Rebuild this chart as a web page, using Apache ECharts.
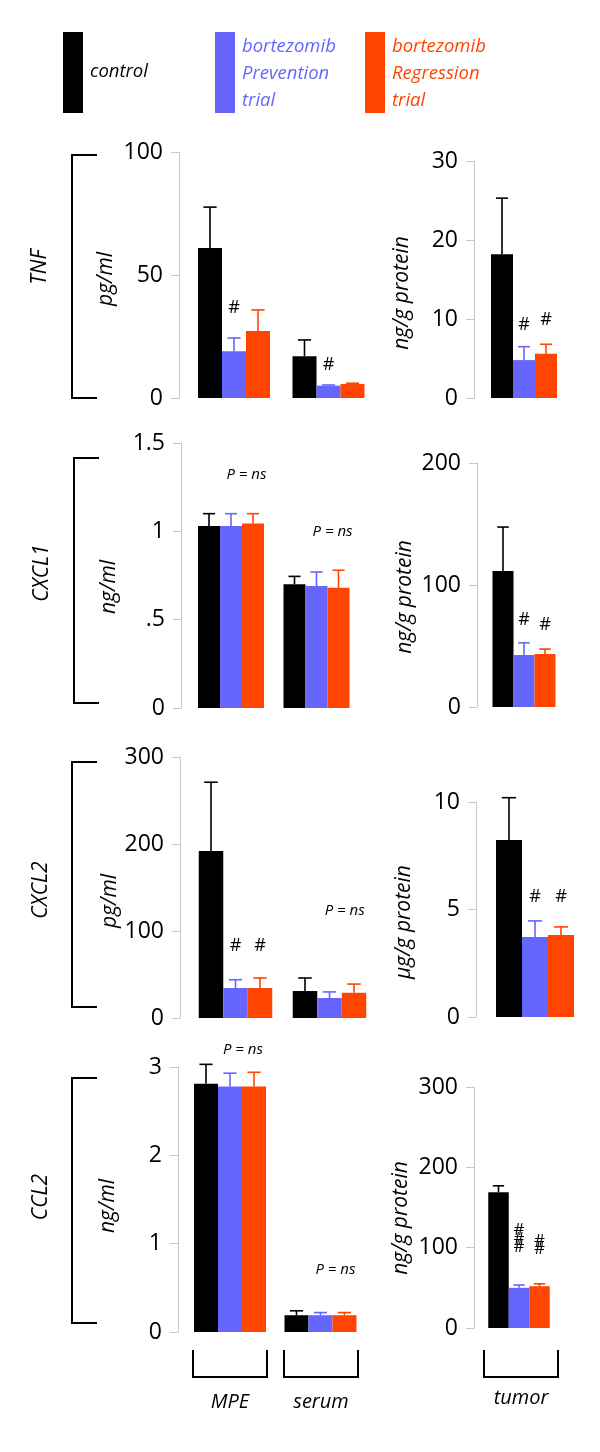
<!DOCTYPE html>
<html>
<head>
<meta charset="utf-8">
<script src="https://cdn.jsdelivr.net/npm/echarts@6/dist/echarts.min.js"></script>
<style>
html,body{margin:0;padding:0;background:#fff;}
#chart{width:600px;height:1452px;}
</style>
</head>
<body>
<div id="chart"></div>
<script>
// ---------------- DATA ----------------
const fluidCategories = ['MPE', 'serum'];
const tumorCategories = ['tumor'];
const groupNames = ['control', 'bortezomib\nPrevention\ntrial', 'bortezomib\nRegression\ntrial'];
const rowLabels = ['TNF', 'CXCL1', 'CXCL2', 'CCL2'];
const unitLabels = ['pg/ml', 'ng/g protein', 'ng/ml', 'ng/g protein', 'pg/ml', 'μg/g protein', 'ng/ml', 'ng/g protein'];

// rows of each mean/sem array: control, prevention, regression
const tnfFluidMean = [[61, 17], [19, 5], [27.2, 5.7]];
const tnfFluidSem = [[16.6, 6.6], [5.4, 0.3], [8.6, 0.3]];
const tnfTumorMean = [[18.2], [4.8], [5.6]];
const tnfTumorSem = [[7.1], [1.7], [1.2]];

const cxcl1FluidMean = [[1.03, 0.70], [1.03, 0.69], [1.045, 0.68]];
const cxcl1FluidSem = [[0.07, 0.045], [0.07, 0.08], [0.055, 0.10]];
const cxcl1TumorMean = [[111.5], [42.6], [43.4]];
const cxcl1TumorSem = [[36], [10], [4.1]];

const cxcl2FluidMean = [[192, 31], [34.5, 23], [34.5, 29]];
const cxcl2FluidSem = [[79, 15], [9.5, 7], [11.5, 10]];
const cxcl2TumorMean = [[8.23], [3.72], [3.81]];
const cxcl2TumorSem = [[1.97], [0.75], [0.38]];

const ccl2FluidMean = [[2.81, 0.19], [2.78, 0.19], [2.78, 0.19]];
const ccl2FluidSem = [[0.22, 0.05], [0.15, 0.03], [0.16, 0.03]];
const ccl2TumorMean = [[169], [50], [52]];
const ccl2TumorSem = [[8], [3.5], [3]];

// tick values and tick labels
const tnfFluidTicks = [0, 50, 100];
const tnfTumorTicks = [0, 10, 20, 30];
const cxcl1FluidTicks = [0, 0.5, 1, 1.5];
const cxcl1FluidTickLabels = ['0', '.5', '1', '1.5'];
const cxcl1TumorTicks = [0, 100, 200];
const cxcl2FluidTicks = [0, 100, 200, 300];
const cxcl2TumorTicks = [0, 5, 10];
const ccl2FluidTicks = [0, 1, 2, 3];
const ccl2TumorTicks = [0, 100, 200, 300];

// significance annotations: category index, bar slot (0..2), y in data units, text
const tnfFluidMarks = [[0, 1, 36.6, '#'], [1, 1, 13.4, '#']];
const tnfTumorMarks = [[0, 1, 9.2, '#'], [0, 2, 9.9, '#']];
const cxcl1FluidMarks = [[0, 1.7, 1.32, 'P = ns'], [1, 1.73, 1.0, 'P = ns']];
const cxcl1TumorMarks = [[0, 1, 71.3, '#'], [0, 2, 67.2, '#']];
const cxcl2FluidMarks = [[0, 1, 82.8, '#'], [0, 2, 82.8, '#'], [1, 1.62, 123, 'P = ns']];
const cxcl2TumorMarks = [[0, 1, 5.58, '#'], [0, 2, 5.58, '#']];
const ccl2FluidMarks = [[0, 1.54, 3.19, 'P = ns'], [1, 1.62, 0.71, 'P = ns']];
const ccl2TumorMarks = [[0, 1, 111, '#\n#\n#'], [0, 2, 103, '#\n#']];

// ---------------- LAYOUT / STYLE ----------------
const colors = ['#000000', '#6666ff', '#ff4500'];
const FONT = '"Open Sans"';

const panels = [
  {cats: fluidCategories, mean: tnfFluidMean, sem: tnfFluidSem, ticks: tnfFluidTicks, marks: tnfFluidMarks,
   g: {left: 186.75, top: 152, width: 189, height: 246}, offset: 7.75, bw: 24},
  {cats: tumorCategories, mean: tnfTumorMean, sem: tnfTumorSem, ticks: tnfTumorTicks, marks: tnfTumorMarks,
   g: {left: 474, top: 161, width: 100, height: 237}, offset: 0, bw: 22},
  {cats: fluidCategories, mean: cxcl1FluidMean, sem: cxcl1FluidSem, ticks: cxcl1FluidTicks, tickLabels: cxcl1FluidTickLabels, marks: cxcl1FluidMarks,
   g: {left: 188.25, top: 443, width: 171, height: 265}, offset: 7.25, bw: 22},
  {cats: tumorCategories, mean: cxcl1TumorMean, sem: cxcl1TumorSem, ticks: cxcl1TumorTicks, marks: cxcl1TumorMarks,
   g: {left: 477, top: 463, width: 94, height: 244}, offset: 0, bw: 21},
  {cats: fluidCategories, mean: cxcl2FluidMean, sem: cxcl2FluidSem, ticks: cxcl2FluidTicks, marks: cxcl2FluidMarks,
   g: {left: 188.5, top: 757, width: 188, height: 261}, offset: 8.5, bw: 24.5},
  {cats: tumorCategories, mean: cxcl2TumorMean, sem: cxcl2TumorSem, ticks: cxcl2TumorTicks, marks: cxcl2TumorMarks,
   g: {left: 476, top: 802, width: 118, height: 215}, offset: 0, bw: 26},
  {cats: fluidCategories, mean: ccl2FluidMean, sem: ccl2FluidSem, ticks: ccl2FluidTicks, marks: ccl2FluidMarks,
   g: {left: 184.75, top: 1067, width: 181, height: 265}, offset: 6.75, bw: 24},
  {cats: tumorCategories, mean: ccl2TumorMean, sem: ccl2TumorSem, ticks: ccl2TumorTicks, marks: ccl2TumorMarks,
   g: {left: 474, top: 1087, width: 90, height: 241}, offset: 0, bw: 20.5}
];
const unitPos = [[106, 279], [402, 293], [109, 587], [405, 597], [110, 901], [404, 922], [108, 1206], [401, 1218]];
const rowLabelPos = [[40, 267], [42, 573], [41, 890], [41, 1197]];
const rowBrackets = [[72, 155, 398], [74, 458, 703], [72, 762, 1007], [72, 1078, 1323]];

const grids = [], xAxes = [], yAxes = [], series = [];

panels.forEach((p, i) => {
  grids.push(Object.assign({outerBoundsMode: 'none', containLabel: false}, p.g));
  xAxes.push({type: 'category', gridIndex: i, data: p.cats,
    axisLine: {show: false}, axisTick: {show: false}, axisLabel: {show: false}, splitLine: {show: false}});
  const t = p.ticks;
  yAxes.push({type: 'value', gridIndex: i, min: t[0], max: t[t.length - 1], interval: t[1] - t[0],
    offset: p.offset,
    axisLine: {show: true, lineStyle: {color: '#c8c8c8', width: 1}},
    axisTick: {show: true, length: 8, lineStyle: {color: '#c8c8c8', width: 1}},
    splitLine: {show: false},
    axisLabel: {show: true, margin: 16, color: '#000', fontFamily: FONT, fontSize: 23,
      formatter: function (v) {
        const idx = t.findIndex(x => Math.abs(x - v) < 1e-9);
        if (p.tickLabels && idx >= 0) return p.tickLabels[idx];
        return String(v);
      }}
  });
  // bars
  p.mean.forEach((vals, k) => {
    series.push({type: 'bar', name: groupNames[k], xAxisIndex: i, yAxisIndex: i,
      data: vals, barWidth: p.bw, barGap: '0%', itemStyle: {color: colors[k]},
      animation: false, z: 2});
  });
  // error bars
  p.mean.forEach((vals, k) => {
    const bw = p.bw, col = colors[k];
    series.push({type: 'custom', xAxisIndex: i, yAxisIndex: i, z: 3, animation: false,
      data: vals.map((m, c) => [c, m, p.sem[k][c]]),
      encode: {x: 0, y: 1},
      renderItem: function (params, api) {
        const c = api.value(0), m = api.value(1), e = api.value(2);
        const base = api.coord([c, m]);
        const top = api.coord([c, m + e]);
        const x = base[0] + (k - 1) * bw;
        const cap = bw * 0.55;
        return {type: 'group', children: [
          {type: 'line', shape: {x1: x, y1: base[1], x2: x, y2: top[1]}, style: {stroke: col, lineWidth: 1.6}},
          {type: 'line', shape: {x1: x - cap / 2, y1: top[1], x2: x + cap / 2, y2: top[1]}, style: {stroke: col, lineWidth: 1.6}}
        ]};
      }
    });
  });
  // annotations
  const bw = p.bw;
  series.push({type: 'custom', xAxisIndex: i, yAxisIndex: i, z: 4, animation: false,
    data: p.marks.map(mk => [mk[0], mk[2], mk[1]]),
    encode: {x: 0, y: 1},
    renderItem: function (params, api) {
      const mk = p.marks[params.dataIndex];
      const pt = api.coord([api.value(0), api.value(1)]);
      const x = pt[0] + (api.value(2) - 1) * bw;
      const isP = mk[3].indexOf('P') === 0;
      const stacked = mk[3].indexOf('\n') >= 0;
      return {type: 'text', x: x, y: pt[1], style: {
        text: mk[3], fill: '#000', align: 'center', verticalAlign: 'middle',
        fontFamily: FONT, fontStyle: isP ? 'italic' : 'normal',
        fontSize: isP ? 15 : (stacked ? 17 : 18), lineHeight: stacked ? 8.5 : undefined
      }};
    }
  });
});

// ---------------- GRAPHICS (legend, brackets, labels) ----------------
const graphics = [];
// legend
const legendX = [63, 215, 365];
legendX.forEach((x, k) => {
  graphics.push({type: 'rect', shape: {x: x, y: 32, width: 20, height: 81}, style: {fill: colors[k]}});
});
graphics.push({type: 'text', x: 90, y: 72, style: {text: groupNames[0], fill: colors[0], fontFamily: FONT, fontStyle: 'italic', fontSize: 18.5, verticalAlign: 'middle'}});
[1, 2].forEach(k => {
  graphics.push({type: 'text', x: legendX[k] + 27, y: 74, style: {text: groupNames[k], fill: colors[k], fontFamily: FONT, fontStyle: 'italic', fontSize: 18.5, lineHeight: 27, verticalAlign: 'middle'}});
});
// row labels + brackets
rowLabels.forEach((lab, r) => {
  graphics.push({type: 'text', x: rowLabelPos[r][0], y: rowLabelPos[r][1], rotation: Math.PI / 2,
    style: {text: lab, fill: '#000', fontFamily: FONT, fontStyle: 'italic', fontSize: 21, align: 'center', verticalAlign: 'middle'}});
  const b = rowBrackets[r];
  graphics.push({type: 'polyline', shape: {points: [[b[0] + 25, b[1]], [b[0], b[1]], [b[0], b[2]], [b[0] + 25, b[2]]]},
    style: {stroke: '#000', lineWidth: 2, fill: null}});
});
// unit labels
unitLabels.forEach((u, i) => {
  graphics.push({type: 'text', x: unitPos[i][0], y: unitPos[i][1], rotation: Math.PI / 2,
    style: {text: u, fill: '#000', fontFamily: FONT, fontStyle: 'italic', fontSize: 21, align: 'center', verticalAlign: 'middle'}});
});
// bottom group brackets
const bottomBrackets = [[193, 267, 'MPE', 1402], [284, 358, 'serum', 1402], [484, 558, 'tumor', 1398]];
bottomBrackets.forEach(b => {
  graphics.push({type: 'polyline', shape: {points: [[b[0], 1350], [b[0], 1377], [b[1], 1377], [b[1], 1350]]},
    style: {stroke: '#000', lineWidth: 2, fill: null}});
  graphics.push({type: 'text', x: (b[0] + b[1]) / 2, y: b[3], style: {text: b[2], fill: '#000', fontFamily: FONT, fontStyle: 'italic', fontSize: 20, align: 'center', verticalAlign: 'middle'}});
});

const chart = echarts.init(document.getElementById('chart'), null, {renderer: 'canvas'});
chart.setOption({
  backgroundColor: '#ffffff',
  animation: false,
  grid: grids, xAxis: xAxes, yAxis: yAxes, series: series,
  graphic: {elements: graphics}
});
</script>
</body>
</html>
